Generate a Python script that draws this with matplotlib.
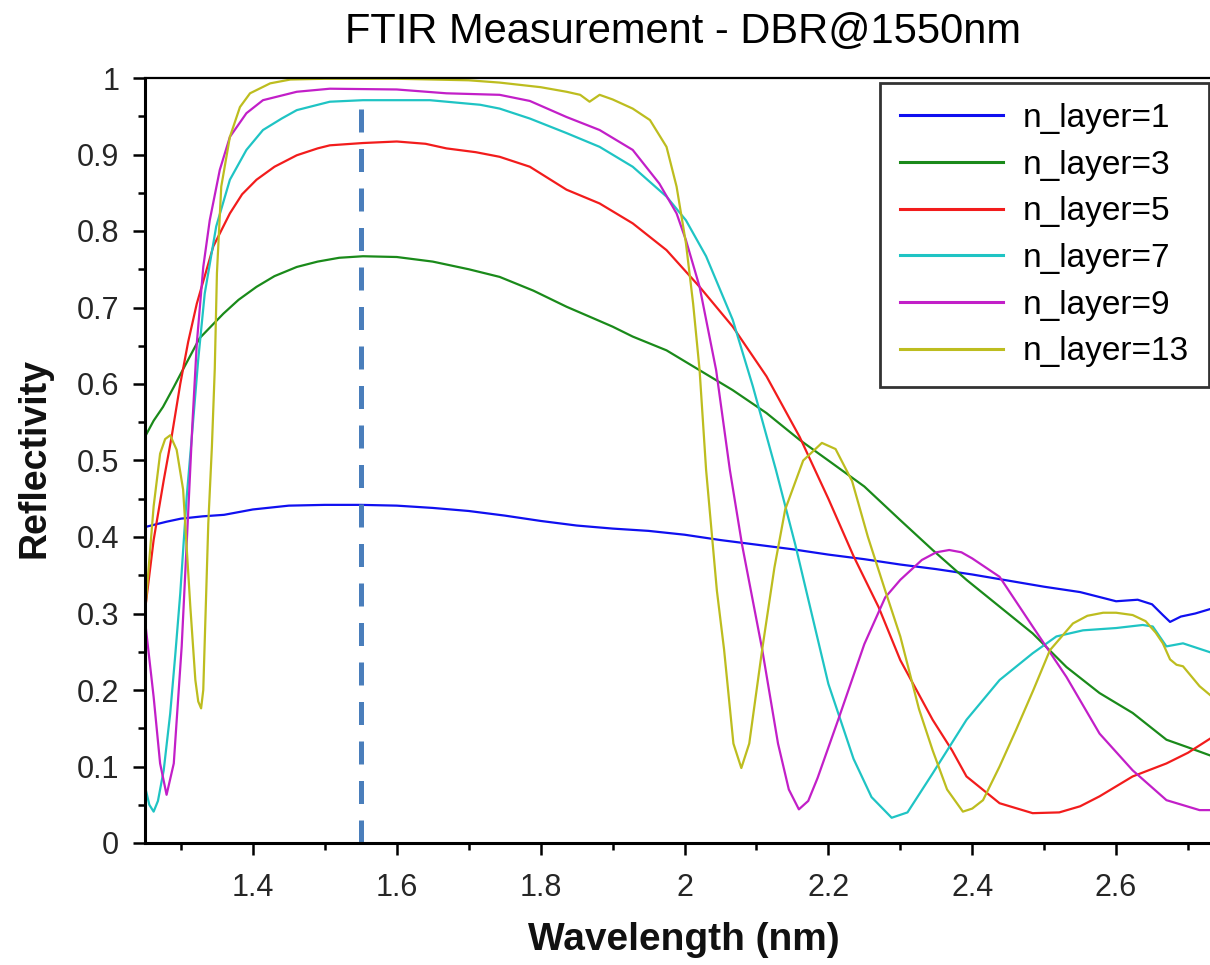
import numpy as np
import matplotlib.pyplot as plt
from matplotlib.ticker import MultipleLocator, FuncFormatter

plt.rcParams['font.family'] = ['Liberation Sans', 'DejaVu Sans']

# ---- data (wavelength, reflectivity) ----
x_n1 = [1.25, 1.28, 1.30, 1.33, 1.36, 1.40, 1.45, 1.50, 1.55, 1.60, 1.65, 1.70, 1.75,
        1.80, 1.85, 1.90, 1.95, 2.00, 2.05, 2.10, 2.15, 2.20, 2.25, 2.30, 2.35, 2.40,
        2.45, 2.50, 2.55, 2.60, 2.63, 2.65, 2.665, 2.675, 2.69, 2.71, 2.735]
y_n1 = [0.413, 0.420, 0.424, 0.427, 0.429, 0.436, 0.441, 0.442, 0.442, 0.441, 0.438, 0.434, 0.428,
        0.421, 0.415, 0.411, 0.408, 0.403, 0.396, 0.390, 0.384, 0.377, 0.371, 0.364, 0.358, 0.351,
        0.343, 0.335, 0.328, 0.316, 0.318, 0.312, 0.298, 0.289, 0.296, 0.300, 0.307]

x_n3 = [1.25, 1.262, 1.275, 1.29, 1.30, 1.326, 1.359, 1.38, 1.405, 1.43, 1.461, 1.49, 1.52,
        1.553, 1.60, 1.65, 1.70, 1.743, 1.79, 1.836, 1.873, 1.90, 1.928, 1.975, 2.021, 2.067,
        2.114, 2.16, 2.20, 2.25, 2.30, 2.345, 2.392, 2.438, 2.484, 2.531, 2.577, 2.623, 2.67,
        2.70, 2.735]
y_n3 = [0.531, 0.552, 0.570, 0.596, 0.614, 0.660, 0.692, 0.710, 0.727, 0.741, 0.753, 0.760, 0.765,
        0.767, 0.766, 0.760, 0.750, 0.740, 0.722, 0.701, 0.686, 0.675, 0.662, 0.644, 0.618, 0.592,
        0.562, 0.527, 0.500, 0.466, 0.422, 0.383, 0.344, 0.309, 0.274, 0.230, 0.196, 0.170, 0.135,
        0.125, 0.113]

x_n5 = [1.25, 1.262, 1.276, 1.287, 1.299, 1.31, 1.322, 1.345, 1.368, 1.385, 1.405, 1.43, 1.461,
        1.49, 1.507, 1.553, 1.60, 1.64, 1.669, 1.71, 1.743, 1.785, 1.836, 1.882, 1.928, 1.975,
        2.021, 2.067, 2.114, 2.16, 2.20, 2.235, 2.27, 2.30, 2.345, 2.372, 2.392, 2.438, 2.484,
        2.521, 2.55, 2.577, 2.623, 2.67, 2.70, 2.735]
y_n5 = [0.304, 0.396, 0.474, 0.531, 0.600, 0.655, 0.705, 0.780, 0.823, 0.848, 0.867, 0.884, 0.899,
        0.908, 0.912, 0.915, 0.917, 0.914, 0.908, 0.903, 0.897, 0.884, 0.854, 0.836, 0.810, 0.775,
        0.727, 0.675, 0.610, 0.531, 0.450, 0.375, 0.308, 0.239, 0.161, 0.121, 0.087, 0.052, 0.039,
        0.040, 0.048, 0.061, 0.087, 0.104, 0.118, 0.139]

x_n7 = [1.25, 1.256, 1.262, 1.268, 1.276, 1.285, 1.292, 1.299, 1.308, 1.315, 1.324, 1.333, 1.349,
        1.368, 1.391, 1.414, 1.44, 1.461, 1.507, 1.553, 1.60, 1.646, 1.716, 1.743, 1.785, 1.836,
        1.882, 1.928, 1.975, 2.002, 2.03, 2.067, 2.095, 2.127, 2.154, 2.20, 2.235, 2.26, 2.288,
        2.31, 2.345, 2.392, 2.438, 2.484, 2.517, 2.554, 2.60, 2.637, 2.651, 2.67, 2.693, 2.735]
y_n7 = [0.074, 0.050, 0.041, 0.055, 0.095, 0.169, 0.245, 0.326, 0.453, 0.530, 0.632, 0.718, 0.806,
        0.867, 0.906, 0.932, 0.947, 0.958, 0.969, 0.971, 0.971, 0.971, 0.965, 0.960, 0.947, 0.928,
        0.910, 0.884, 0.845, 0.814, 0.767, 0.684, 0.597, 0.488, 0.390, 0.208, 0.110, 0.060, 0.033,
        0.040, 0.091, 0.161, 0.213, 0.248, 0.270, 0.278, 0.281, 0.285, 0.283, 0.257, 0.261, 0.248]

x_n9 = [1.25, 1.262, 1.271, 1.28, 1.29, 1.301, 1.31, 1.316, 1.322, 1.331, 1.34, 1.354, 1.368,
        1.391, 1.414, 1.461, 1.507, 1.60, 1.669, 1.743, 1.785, 1.836, 1.882, 1.928, 1.965, 1.989,
        2.002, 2.021, 2.044, 2.063, 2.08, 2.108, 2.13, 2.145, 2.159, 2.172, 2.185, 2.214, 2.25,
        2.279, 2.30, 2.33, 2.35, 2.368, 2.385, 2.40, 2.438, 2.484, 2.531, 2.577, 2.623, 2.67,
        2.716, 2.735]
y_n9 = [0.291, 0.191, 0.104, 0.063, 0.104, 0.257, 0.431, 0.550, 0.653, 0.753, 0.814, 0.880, 0.923,
        0.954, 0.971, 0.982, 0.986, 0.985, 0.980, 0.978, 0.970, 0.949, 0.932, 0.906, 0.862, 0.823,
        0.788, 0.727, 0.618, 0.488, 0.390, 0.253, 0.130, 0.070, 0.044, 0.055, 0.085, 0.162, 0.260,
        0.321, 0.344, 0.370, 0.380, 0.383, 0.380, 0.372, 0.348, 0.283, 0.217, 0.143, 0.095, 0.056,
        0.043, 0.043]

x_n13 = [1.25, 1.256, 1.262, 1.271, 1.278, 1.285, 1.294, 1.303, 1.313, 1.32, 1.324, 1.328, 1.331,
         1.338, 1.343, 1.347, 1.350, 1.356, 1.368, 1.382, 1.396, 1.424, 1.452, 1.50, 1.60, 1.70,
         1.743, 1.80, 1.836, 1.855, 1.868, 1.882, 1.90, 1.928, 1.952, 1.975, 1.989, 2.002, 2.012,
         2.021, 2.03, 2.045, 2.055, 2.068, 2.079, 2.09, 2.108, 2.125, 2.14, 2.165, 2.191, 2.21,
         2.233, 2.255, 2.279, 2.30, 2.326, 2.345, 2.365, 2.387, 2.40, 2.415, 2.438, 2.461, 2.485,
         2.508, 2.54, 2.56, 2.582, 2.60, 2.623, 2.641, 2.655, 2.665, 2.675, 2.684, 2.693, 2.716, 2.735]
y_n13 = [0.300, 0.370, 0.440, 0.509, 0.528, 0.533, 0.514, 0.462, 0.309, 0.213, 0.185, 0.176, 0.200,
         0.418, 0.518, 0.620, 0.745, 0.858, 0.923, 0.962, 0.980, 0.993, 0.998, 0.999, 0.999, 0.997,
         0.994, 0.988, 0.982, 0.978, 0.969, 0.978, 0.972, 0.960, 0.945, 0.910, 0.858, 0.784, 0.705,
         0.618, 0.488, 0.330, 0.253, 0.130, 0.098, 0.130, 0.253, 0.360, 0.436, 0.500, 0.523, 0.515,
         0.473, 0.400, 0.330, 0.270, 0.175, 0.121, 0.070, 0.041, 0.045, 0.056, 0.100, 0.148, 0.200,
         0.252, 0.287, 0.297, 0.301, 0.301, 0.298, 0.290, 0.275, 0.261, 0.240, 0.233, 0.231, 0.205, 0.190]

series = [
    (x_n1, y_n1, 'n_layer=1', '#1010f0'),
    (x_n3, y_n3, 'n_layer=3', '#1a8a1a'),
    (x_n5, y_n5, 'n_layer=5', '#f21c1c'),
    (x_n7, y_n7, 'n_layer=7', '#1fc4c4'),
    (x_n9, y_n9, 'n_layer=9', '#c21fc8'),
    (x_n13, y_n13, 'n_layer=13', '#bdbd1f'),
]

target_wl = 1.55
target_top = 0.975

# ---- figure ----
W, H = 1210, 965
fig = plt.figure(figsize=(W / 100, H / 100), dpi=100)
ax = fig.add_axes([145 / W, (H - 843) / H, 1079 / W, 765 / H])

for xs, ys, lab, col in series:
    ax.plot(xs, ys, color=col, lw=1.6, label=lab)

ax.plot([target_wl, target_wl], [0, target_top], color='#4a7ebb', lw=3.6,
        linestyle=(0, (4.6, 3.3)))

ax.set_xlim(1.25, 2.75)
ax.set_ylim(0, 1)

ax.xaxis.set_major_locator(MultipleLocator(0.2))
ax.xaxis.set_minor_locator(MultipleLocator(0.1))
ax.yaxis.set_major_locator(MultipleLocator(0.1))
ax.yaxis.set_minor_locator(MultipleLocator(0.05))
fmt = FuncFormatter(lambda v, p: f'{round(v, 2):g}')
ax.xaxis.set_major_formatter(fmt)
ax.yaxis.set_major_formatter(fmt)
ax.set_xticks([1.4, 1.6, 1.8, 2.0, 2.2, 2.4, 2.6])

ax.tick_params(which='major', direction='out', length=8.6, width=1.8,
               labelsize=22, labelcolor='#262626')
ax.tick_params(axis='x', which='major', pad=13)
ax.tick_params(axis='y', which='major', pad=10)
ax.tick_params(which='minor', direction='out', length=5, width=1.8)

for side in ['left', 'bottom']:
    ax.spines[side].set_linewidth(2.2)
ax.spines['top'].set_linewidth(1.6)
ax.spines['right'].set_visible(False)

leg = fig.legend(loc='upper right', bbox_to_anchor=(1209 / W, 1 - 83 / H),
                 fontsize=24, frameon=True, fancybox=False, edgecolor='black',
                 handlelength=3.1, handletextpad=0.6, labelspacing=0.47,
                 borderpad=0.6, borderaxespad=0)
leg.get_frame().set_linewidth(2.0)
for line in leg.get_lines():
    line.set_linewidth(2.2)

fig.text(683 / W, 1 - 32 / H, 'FTIR Measurement - DBR@1550nm', ha='center', va='center',
         fontsize=30, color='black')
fig.text(684 / W, 1 - 940 / H, 'Wavelength (nm)', ha='center', va='center',
         fontsize=28, fontweight='bold', color='#111111')
fig.text(35 / W, 1 - 458 / H, 'Reflectivity', ha='center', va='center', rotation=90,
         fontsize=27, fontweight='bold', color='#111111')

fig.savefig('out.png', dpi=100)
